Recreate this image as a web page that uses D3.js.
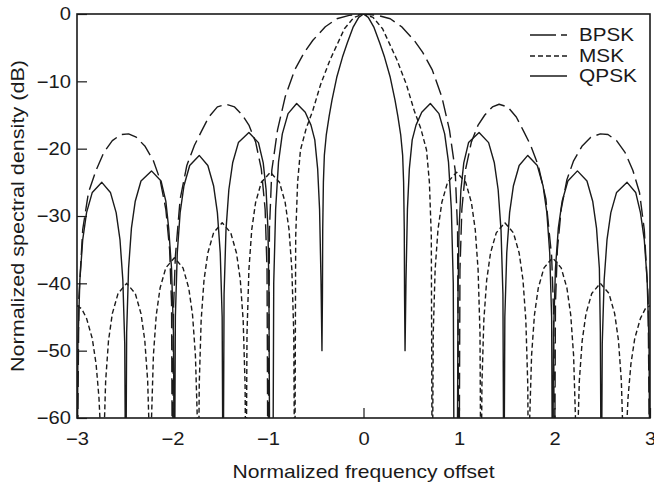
<!DOCTYPE html>
<html><head><meta charset="utf-8">
<script src="https://cdn.jsdelivr.net/npm/d3@7"></script>
<style>body{margin:0;background:#fff}svg{display:block}</style>
</head><body><svg id="c" width="654" height="486"></svg>
<script>
const xTicks=[-3,-2,-1,0,1,2,3];
const yTicks=[0,-10,-20,-30,-40,-50,-60];
const seriesNames=["BPSK","MSK","QPSK"];
const xTitle="Normalized frequency offset";
const yTitle="Normalized spectral density (dB)";

const bpskPoints=[
[-3.0,-75],[-2.98,-42],[-2.94,-32],[-2.88,-26.5],[-2.80,-23.2],[-2.72,-20.6],[-2.63,-18.8],[-2.54,-17.9],[-2.46,-17.8],[-2.38,-18.3],[-2.29,-19.6],[-2.20,-21.8],[-2.13,-24.6],[-2.07,-29],[-2.03,-35],[-2.01,-43],[-2.0,-75],
[-1.99,-44],[-1.97,-36],[-1.92,-27.5],[-1.85,-22.5],[-1.77,-19.5],[-1.70,-17.5],[-1.62,-15.3],[-1.53,-13.8],[-1.44,-13.4],[-1.35,-13.8],[-1.27,-15],[-1.20,-16.5],[-1.13,-19],[-1.07,-23],[-1.03,-29],[-1.01,-38],[-1.0,-75],
[-0.985,-32],[-0.96,-23.2],[-0.90,-17.2],[-0.82,-12.3],[-0.72,-8.3],[-0.62,-5.7],[-0.53,-3.9],[-0.40,-1.9],[-0.28,-0.7],[-0.15,-0.2],[0,0],[0.15,-0.2],[0.28,-0.7],[0.40,-1.9],[0.53,-3.9],[0.62,-5.7],[0.72,-8.3],[0.82,-12.3],[0.90,-17.2],[0.96,-23.2],[0.985,-32],[1.0,-75],
[1.01,-38],[1.03,-29],[1.07,-23],[1.13,-19],[1.20,-16.5],[1.27,-15],[1.35,-13.8],[1.42,-13.4],[1.51,-13.8],[1.60,-15.3],[1.68,-17.5],[1.75,-19.5],[1.83,-22.5],[1.91,-27.5],[1.97,-36],[1.99,-44],[2.0,-75],
[2.01,-43],[2.03,-35],[2.07,-29],[2.13,-24.6],[2.20,-21.8],[2.29,-19.6],[2.38,-18.3],[2.48,-17.8],[2.56,-17.9],[2.65,-18.8],[2.74,-20.6],[2.82,-23.2],[2.89,-26.5],[2.94,-32],[2.98,-42],[3.0,-75]
];

const mskPoints=[
[-3.0,-43.3],[-2.95,-43.8],[-2.90,-45.2],[-2.84,-48.2],[-2.80,-52],[-2.77,-57],[-2.75,-63],[-2.73,-75],
[-2.72,-64],[-2.70,-54.5],[-2.67,-48.5],[-2.63,-44.5],[-2.57,-41.5],[-2.48,-40],[-2.39,-41.5],[-2.33,-44.5],[-2.29,-48.5],[-2.26,-54.5],[-2.24,-64],[-2.23,-75],
[-2.22,-60.2],[-2.20,-50.7],[-2.17,-44.7],[-2.13,-40.7],[-2.07,-37.7],[-1.98,-36.2],[-1.89,-37.7],[-1.83,-40.7],[-1.79,-44.7],[-1.76,-50.7],[-1.74,-60.2],[-1.73,-75],
[-1.72,-55],[-1.70,-45.5],[-1.67,-39.5],[-1.63,-35.5],[-1.57,-32.5],[-1.48,-31],[-1.39,-32.5],[-1.33,-35.5],[-1.29,-39.5],[-1.26,-45.5],[-1.24,-55],[-1.23,-75],
[-1.22,-47.5],[-1.20,-38],[-1.17,-32],[-1.13,-28],[-1.07,-25],[-0.975,-23.5],[-0.88,-25],[-0.82,-28],[-0.78,-32],[-0.75,-38],[-0.73,-47.5],[-0.72,-75],
[-0.71,-33],[-0.69,-25],[-0.66,-20.2],[-0.60,-17],[-0.53,-14.3],[-0.45,-10.5],[-0.35,-6.8],[-0.20,-2.2],[-0.10,-0.5],[0,0],[0.10,-0.5],[0.20,-2.2],[0.35,-6.8],[0.45,-10.5],[0.53,-14.3],[0.60,-17],[0.66,-20.2],[0.69,-25],[0.71,-33],[0.72,-75],
[0.73,-47.5],[0.75,-38],[0.78,-32],[0.82,-28],[0.88,-25],[0.975,-23.5],[1.07,-25],[1.13,-28],[1.17,-32],[1.20,-38],[1.22,-47.5],[1.23,-75],
[1.24,-55],[1.26,-45.5],[1.29,-39.5],[1.33,-35.5],[1.39,-32.5],[1.48,-31],[1.57,-32.5],[1.63,-35.5],[1.67,-39.5],[1.70,-45.5],[1.72,-55],[1.73,-75],
[1.74,-60.2],[1.76,-50.7],[1.79,-44.7],[1.83,-40.7],[1.89,-37.7],[1.98,-36.2],[2.07,-37.7],[2.13,-40.7],[2.17,-44.7],[2.20,-50.7],[2.22,-60.2],[2.23,-75],
[2.24,-64],[2.26,-54.5],[2.29,-48.5],[2.33,-44.5],[2.39,-41.5],[2.48,-40],[2.57,-41.5],[2.63,-44.5],[2.67,-48.5],[2.70,-54.5],[2.72,-64],[2.73,-75],
[2.75,-63],[2.77,-57],[2.80,-52],[2.84,-48.2],[2.90,-45.2],[2.95,-43.8],[3.0,-43.3]
];

const qpskPoints=[
[-3.0,-75],[-2.99,-49],[-2.97,-39.5],[-2.94,-33.5],[-2.90,-29.5],[-2.84,-26.5],[-2.74,-25],[-2.65,-26.5],[-2.59,-29.5],[-2.55,-33.5],[-2.52,-39.5],[-2.50,-49],[-2.49,-75],
[-2.48,-47.3],[-2.46,-37.8],[-2.43,-31.8],[-2.39,-27.8],[-2.33,-24.8],[-2.22,-23.3],[-2.12,-24.8],[-2.07,-27.8],[-2.04,-31.8],[-2.01,-37.8],[-1.99,-47.3],[-1.98,-75],
[-1.97,-45],[-1.95,-35.5],[-1.92,-29.5],[-1.88,-25.5],[-1.82,-22.5],[-1.72,-21],[-1.63,-22.5],[-1.57,-25.5],[-1.53,-29.5],[-1.50,-35.5],[-1.48,-45],[-1.47,-75],
[-1.46,-41.6],[-1.44,-32.1],[-1.41,-26.1],[-1.37,-22.1],[-1.31,-19.1],[-1.20,-17.6],[-1.10,-19.1],[-1.05,-22.1],[-1.02,-26.1],[-1.00,-32.1],[-0.99,-41.6],[-0.98,-75],
[-0.95,-75],[-0.94,-40],[-0.92,-29],[-0.89,-22],[-0.85,-17.8],[-0.79,-14.8],[-0.70,-13.3],[-0.61,-14.6],[-0.55,-16.5],[-0.51,-18.7],[-0.48,-23],[-0.46,-29],[-0.445,-39.5],[-0.435,-50],
[-0.43,-42],[-0.427,-32],[-0.42,-25],[-0.41,-21],[-0.39,-18],[-0.36,-15.2],[-0.33,-12.8],[-0.28,-9.4],[-0.22,-6.4],[-0.17,-4.3],[-0.11,-2.0],[-0.05,-0.5],[0,0],
[0.05,-0.5],[0.11,-2.0],[0.17,-4.3],[0.22,-6.4],[0.28,-9.4],[0.33,-12.8],[0.36,-15.2],[0.39,-18],[0.41,-21],[0.42,-25],[0.427,-32],[0.43,-42],[0.435,-50],
[0.445,-39.5],[0.46,-29],[0.48,-23],[0.51,-18.7],[0.55,-16.5],[0.61,-14.6],[0.70,-13.3],[0.79,-14.8],[0.85,-17.8],[0.89,-22],[0.92,-29],[0.94,-40],[0.95,-75],
[0.98,-75],[0.99,-41.6],[1.00,-32.1],[1.02,-26.1],[1.05,-22.1],[1.10,-19.1],[1.21,-17.6],[1.31,-19.1],[1.37,-22.1],[1.41,-26.1],[1.44,-32.1],[1.46,-41.6],[1.47,-75],
[1.48,-45],[1.50,-35.5],[1.53,-29.5],[1.57,-25.5],[1.63,-22.5],[1.72,-21],[1.82,-22.5],[1.88,-25.5],[1.92,-29.5],[1.95,-35.5],[1.97,-45],[1.98,-75],
[1.99,-47.3],[2.01,-37.8],[2.04,-31.8],[2.08,-27.8],[2.14,-24.8],[2.24,-23.3],[2.34,-24.8],[2.40,-27.8],[2.44,-31.8],[2.47,-37.8],[2.48,-47.3],[2.49,-75],
[2.50,-49],[2.52,-39.5],[2.55,-33.5],[2.59,-29.5],[2.65,-26.5],[2.76,-25],[2.85,-26.5],[2.90,-29.5],[2.94,-33.5],[2.97,-39.5],[2.99,-49],[3.0,-75]
];

const seriesData=[bpskPoints,mskPoints,qpskPoints];
const dashes=["16,6","5,3",null];

const W=654,H=486;
const m={left:77,right:4,top:14,bottom:68};
const svg=d3.select("#c");
const font="'Liberation Sans', Arial, Helvetica, sans-serif";
const ink="#1a1a1a";

const x=d3.scaleLinear().domain([-3,3]).range([m.left,W-m.right]);
const y=d3.scaleLinear().domain([-60,0]).range([H-m.bottom,m.top]);

svg.append("defs").append("clipPath").attr("id","clip")
  .append("rect").attr("x",x(-3)).attr("y",y(0)).attr("width",x(3)-x(-3)).attr("height",y(-60)-y(0));

const line=d3.line().x(d=>x(d[0])).y(d=>y(d[1]));
const g=svg.append("g").attr("clip-path","url(#clip)");
seriesData.forEach((pts,i)=>{
  g.append("path").datum(pts).attr("d",line).attr("fill","none")
   .attr("stroke",ink).attr("stroke-width",1.4)
   .attr("stroke-dasharray",dashes[i]).attr("stroke-linejoin","round");
});

const fmt=d=>d<0?"\u2212"+Math.abs(d):String(d);
const ax=svg.append("g").attr("transform",`translate(0,${y(-60)})`)
  .call(d3.axisBottom(x).tickValues(xTicks).tickSize(-10).tickPadding(14).tickFormat(fmt));
const ay=svg.append("g").attr("transform",`translate(${x(-3)},0)`)
  .call(d3.axisLeft(y).tickValues(yTicks).tickSize(-10).tickPadding(6).tickFormat(fmt));
[ax,ay].forEach(a=>{
  a.select(".domain").remove();
  a.selectAll(".tick line").attr("stroke",ink).attr("stroke-width",1.2);
  a.selectAll(".tick text").attr("font-family",font).attr("font-size",18).attr("fill",ink);
});

svg.append("rect").attr("x",x(-3)).attr("y",y(0)).attr("width",x(3)-x(-3)).attr("height",y(-60)-y(0))
  .attr("fill","none").attr("stroke",ink).attr("stroke-width",1.6);

svg.append("text").attr("x",(x(-3)+x(3))/2).attr("y",478).attr("text-anchor","middle")
  .attr("font-family",font).attr("font-size",18.5).attr("fill",ink)
  .attr("textLength",262).attr("lengthAdjust","spacingAndGlyphs").text(xTitle);
svg.append("text").attr("transform",`translate(24,${(y(0)+y(-60))/2}) rotate(-90)`).attr("text-anchor","middle")
  .attr("font-family",font).attr("font-size",18.5).attr("fill",ink)
  .attr("textLength",312).attr("lengthAdjust","spacingAndGlyphs").text(yTitle);

const legendY=[35,56,76];
const legendW=[55,45,58];
seriesNames.forEach((n,i)=>{
  svg.append("line").attr("x1",530).attr("x2",567).attr("y1",legendY[i]).attr("y2",legendY[i])
    .attr("stroke",ink).attr("stroke-width",1.4).attr("stroke-dasharray",i===0?"26,5,7,40":dashes[i]);
  svg.append("text").attr("x",579).attr("y",legendY[i]).attr("dy","0.35em")
    .attr("font-family",font).attr("font-size",18.5).attr("fill",ink)
    .attr("textLength",legendW[i]).attr("lengthAdjust","spacingAndGlyphs").text(n);
});

// widen tick labels slightly to match the reference lettering
svg.selectAll(".tick text").each(function(){
  const l=this.getComputedTextLength();
  d3.select(this).attr("textLength",l*1.12).attr("lengthAdjust","spacingAndGlyphs");
});
</script></body></html>
